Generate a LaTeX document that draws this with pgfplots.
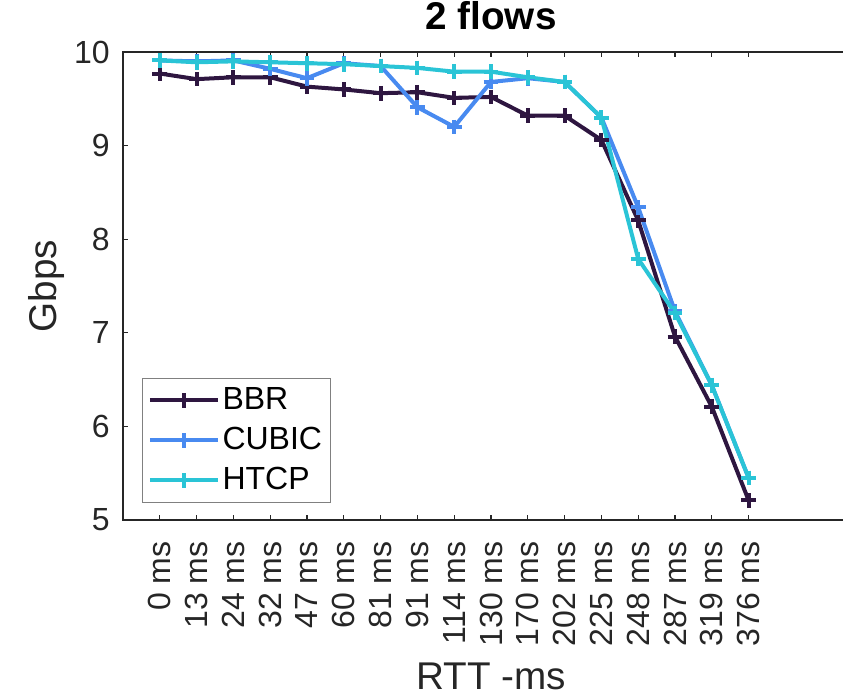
\documentclass[border=0pt]{standalone}
\usepackage{pgfplots}
\pgfplotsset{compat=1.18}
\usepackage{fontspec}
\setmainfont{Liberation Sans}

\definecolor{bbr}{RGB}{46,22,64}
\definecolor{cubic}{RGB}{72,138,240}
\definecolor{htcp}{RGB}{42,196,214}
\definecolor{axgray}{RGB}{38,38,38}

\pgfplotstableread{
x bbr   cubic htcp
0  9.77 9.91 9.91
1  9.71 9.90 9.89
2  9.73 9.91 9.90
3  9.73 9.82 9.89
4  9.63 9.72 9.88
5  9.60 9.88 9.87
6  9.56 9.85 9.85
7  9.57 9.41 9.83
8  9.51 9.20 9.79
9  9.52 9.68 9.79
10 9.32 9.72 9.73
11 9.32 9.68 9.68
12 9.06 9.30 9.30
13 8.20 8.34 7.79
14 6.96 7.23 7.21
15 6.21 6.44 6.44
16 5.21 5.45 5.45
}\flows

\begin{document}
\begin{tikzpicture}
\useasboundingbox (-92.25pt,-132.75pt) rectangle (540pt,390pt);
\clip (-92.25pt,-132.75pt) rectangle (540pt,390pt);
\begin{axis}[
  at={(0,0)}, anchor=south west,
  scale only axis,
  width=552pt, height=351pt,
  xmin=-1, xmax=19, ymin=5, ymax=10,
  xtick={0,...,16},
  xticklabels={0 ms,13 ms,24 ms,32 ms,47 ms,60 ms,81 ms,91 ms,114 ms,130 ms,170 ms,202 ms,225 ms,248 ms,287 ms,319 ms,376 ms},
  ytick={5,...,10},
  xtick pos=both, ytick pos=left,
  tick align=inside,
  major tick length=4pt,
  axis line style={axgray, line width=0.8pt},
  every tick/.style={axgray, line width=0.8pt},
  /pgf/number format/assume math mode=true,
  tick label style={font=\fontsize{24}{28}\selectfont, text=axgray, inner sep=0pt},
  xticklabel style={rotate=90, anchor=east},
  xticklabel shift=16pt,
  yticklabel shift=9.75pt,
  title={2 flows},
  title style={font=\fontsize{29}{34}\selectfont\bfseries, at={(axis description cs:0.5,1)}, anchor=base, yshift=11pt, inner sep=0pt},
  xlabel={RTT -ms},
  xlabel style={font=\fontsize{29}{34}\selectfont, text=axgray, at={(axis description cs:0.5,0)}, anchor=base, yshift=-127pt, inner sep=0pt},
  ylabel={Gbps},
  ylabel style={font=\fontsize{29}{34}\selectfont, text=axgray, at={(axis description cs:-0.1291,0.5)}, anchor=north, inner sep=0pt},
  legend style={at={(axis description cs:0.0258,0.0363)}, anchor=south west,
    draw=gray, line width=0.8pt, fill=white,
    font=\fontsize{24}{28}\selectfont,
    inner xsep=4pt, inner ysep=3pt, row sep=3pt,
    nodes={inner sep=2pt, text height=18pt, text depth=5pt}},
  legend cell align=left,
  legend image code/.code={\draw[mark repeat=2,mark phase=2,#1] plot coordinates {(0pt,0pt) (25.5pt,0pt) (51pt,0pt)};},
  every axis plot/.append style={line width=3pt, mark=+, mark size=5.5pt, mark options={line width=3pt}},
]
\addplot[bbr] table[x=x, y=bbr] {\flows};
\addlegendentry{BBR}
\addplot[cubic] table[x=x, y=cubic] {\flows};
\addlegendentry{CUBIC}
\addplot[htcp] table[x=x, y=htcp] {\flows};
\addlegendentry{HTCP}
\end{axis}
\end{tikzpicture}
\end{document}
